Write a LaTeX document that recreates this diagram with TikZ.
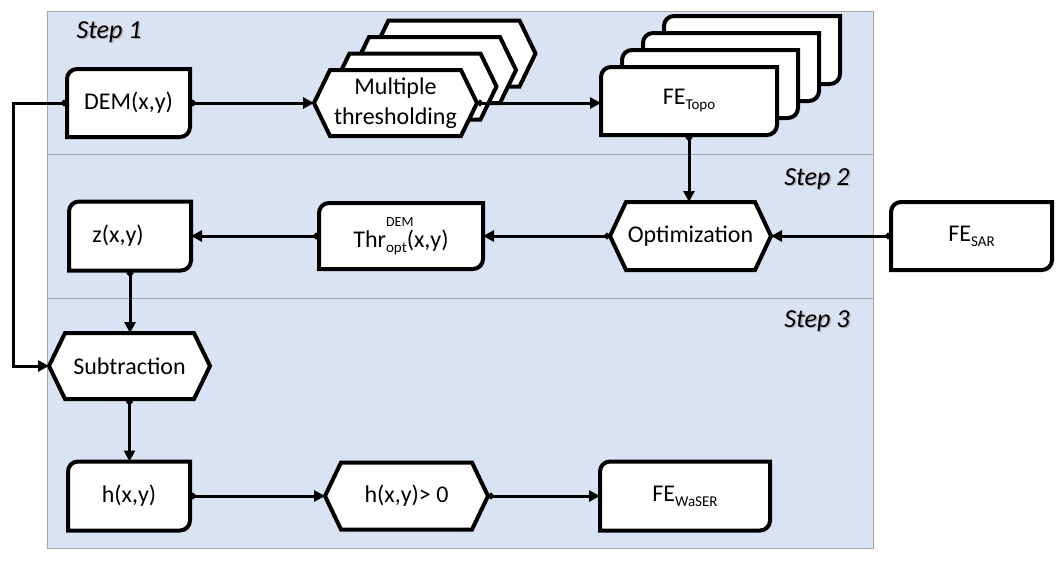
\documentclass[tikz,border=0pt]{standalone}
\usepackage{fontspec}
\setmainfont{Carlito}
\usetikzlibrary{arrows.meta}

\pgfdeclarelayer{panel}
\pgfdeclarelayer{shape}
\pgfsetlayers{panel,shape,main}

\definecolor{panelblue}{HTML}{DAE3F3}
\definecolor{panelline}{HTML}{A6A6A6}

\newcommand{\crad}{10pt}
\newcommand{\hexdx}{16pt}
\newcommand{\lowtext}[1]{\raisebox{-5pt}{\fontsize{15}{15}\selectfont #1}}

% data box: rounded top left and bottom right corners
\newcommand{\databorder}[1]{%
  \draw[border] ([yshift=-\crad]#1.north west) arc[start angle=180, end angle=90, radius=\crad]
    -- (#1.north east) -- ([yshift=\crad]#1.south east)
    arc[start angle=0, end angle=-90, radius=\crad] -- (#1.south west) -- cycle;}
% process box: hexagon
\newcommand{\procborder}[1]{%
  \draw[border] (#1.west) -- ([xshift=\hexdx]#1.north west) -- ([xshift=-\hexdx]#1.north east)
    -- (#1.east) -- ([xshift=-\hexdx]#1.south east) -- ([xshift=\hexdx]#1.south west) -- cycle;}

\tikzset{
  every node/.style={font=\fontsize{24}{30}\selectfont},
  block/.style={rectangle, inner sep=0pt, outer sep=0pt, align=center},
  border/.style={draw=black, fill=white, line width=4pt, line join=miter},
  flow/.style={line width=3pt, {Circle[length=6pt]}-{Triangle[length=11pt,width=11pt]}},
  steplabel/.style={font=\itshape\fontsize{26}{30}\selectfont},
  band/.style={fill=panelblue, draw=panelline, line width=1pt},
}

\begin{document}
\begin{tikzpicture}[x=1pt, y=1pt]
  \useasboundingbox (0,0) rectangle (1056,-560);

  \begin{pgfonlayer}{panel}
    \draw[band] (47,-11) rectangle (873,-154);
    \draw[band] (47,-154) rectangle (873,-298);
    \draw[band] (47,-298) rectangle (873,-548);
  \end{pgfonlayer}

  % step labels
  \node[steplabel, text=gray!60, anchor=west] (step1shadow) at (74.5,-33.5) {Step 1};
  \node[steplabel, anchor=west] (step1) at (73,-32) {Step 1};
  \node[steplabel, text=gray!60, anchor=east] (step2shadow) at (854.5,-180.5) {Step 2};
  \node[steplabel, anchor=east] (step2) at (853,-179) {Step 2};
  \node[steplabel, text=gray!60, anchor=east] (step3shadow) at (854.5,-322.5) {Step 3};
  \node[steplabel, anchor=east] (step3) at (853,-321) {Step 3};

  % step 1
  \node[block, minimum width=123, minimum height=68] (dem) at (128.5,-103) {DEM(x,y)};
  \foreach \k in {3,2,1} {
    \node[block, minimum width=163, minimum height=66] (multi\k) at (395.5+19.5*\k,-103+16.5*\k) {};
    \begin{pgfonlayer}{shape}\procborder{multi\k}\end{pgfonlayer}
  }
  \node[block, minimum width=163, minimum height=66] (multi0) at (395.5,-103) {Multiple\\thresholding};
  \foreach \k in {3,2,1} {
    \node[block, minimum width=176, minimum height=68] (topo\k) at (689+21*\k,-101+17*\k) {};
    \begin{pgfonlayer}{shape}\databorder{topo\k}\end{pgfonlayer}
  }
  \node[block, minimum width=176, minimum height=68] (topo0) at (689,-101) {FE\lowtext{Topo}};

  % step 2
  \node[block, minimum width=161, minimum height=68] (opt) at (690.5,-236) {Optimization};
  \node[block, minimum width=161, minimum height=68] (sar) at (971.5,-236) {FE\lowtext{SAR}};
  \node[block, minimum width=164, minimum height=66] (thropt) at (401,-236)
    {Thr\rlap{\raisebox{21pt}{\fontsize{14}{14}\selectfont DEM}}\lowtext{opt}(x,y)};
  \node[block, minimum width=122, minimum height=69] (z) at (130,-236) {z(x,y)\hspace*{24pt}};

  % step 3
  \node[block, minimum width=161, minimum height=66] (sub) at (129.5,-366) {Subtraction};
  \node[block, minimum width=122, minimum height=69] (h) at (129,-496) {h(x,y)};
  \node[block, minimum width=163, minimum height=67] (hpos) at (406.5,-496) {h(x,y)> 0};
  \node[block, minimum width=170, minimum height=69] (waser) at (685,-496) {FE\lowtext{WaSER}};

  \begin{pgfonlayer}{shape}
    \databorder{dem}
    \procborder{multi0}
    \databorder{topo0}
    \procborder{opt}
    \databorder{sar}
    \databorder{thropt}
    \databorder{z}
    \procborder{sub}
    \databorder{h}
    \procborder{hpos}
    \databorder{waser}
  \end{pgfonlayer}

  % connectors
  \coordinate (loopcorner) at (13,-103);
  \draw[flow] (dem.west) -- (loopcorner) |- (sub.west);
  \draw[flow] (dem.east) -- (multi0.west);
  \draw[flow] (multi0.east) -- (multi0.east -| topo0.west);
  \draw[flow] (topo0.south) -- (topo0.south |- opt.north);
  \draw[flow] (sar.west) -- (opt.east);
  \draw[flow] (opt.west) -- (thropt.east);
  \draw[flow] (thropt.west) -- (z.east);
  \draw[flow] (z.south) -- (z.south |- sub.north);
  \draw[flow] (sub.south) -- (sub.south |- h.north);
  \draw[flow] (h.east) -- (hpos.west);
  \draw[flow] (hpos.east) -- (waser.west);
\end{tikzpicture}
\end{document}
